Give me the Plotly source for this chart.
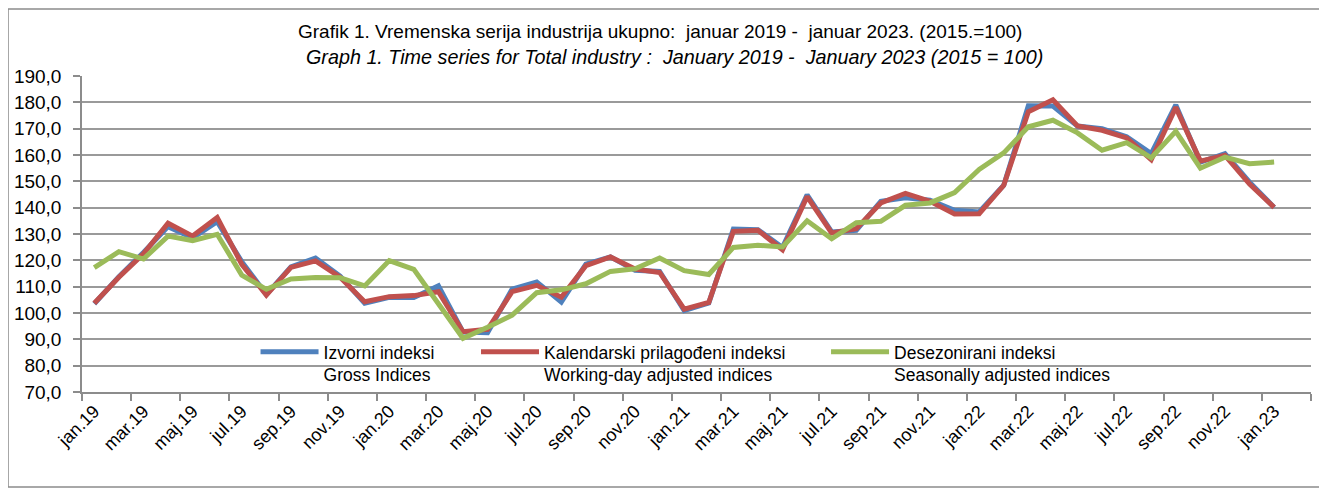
import plotly.graph_objects as go

months = ["jan.19", "feb.19", "mar.19", "apr.19", "maj.19", "jun.19", "jul.19", "avg.19", "sep.19", "okt.19", "nov.19", "dec.19",
          "jan.20", "feb.20", "mar.20", "apr.20", "maj.20", "jun.20", "jul.20", "avg.20", "sep.20", "okt.20", "nov.20", "dec.20",
          "jan.21", "feb.21", "mar.21", "apr.21", "maj.21", "jun.21", "jul.21", "avg.21", "sep.21", "okt.21", "nov.21", "dec.21",
          "jan.22", "feb.22", "mar.22", "apr.22", "maj.22", "jun.22", "jul.22", "avg.22", "sep.22", "okt.22", "nov.22", "dec.22",
          "jan.23"]

gross = [103.5, 113.8, 123.0, 132.8, 128.5, 134.7, 119.5, 107.0, 117.5, 120.9,
         114.0, 103.7, 106.0, 105.9, 110.3, 92.8, 92.5, 109.1, 111.8, 104.2,
         118.6, 121.3, 116.2, 115.8, 100.9, 103.8, 131.9, 131.6, 124.9, 144.9,
         130.8, 131.4, 142.4, 143.8, 142.8, 139.0, 138.4, 148.5, 178.7, 178.6,
         171.0, 170.0, 166.9, 160.5, 179.0, 157.3, 160.5, 149.7, 140.1]

wda = [103.7, 113.6, 122.5, 134.1, 129.2, 136.3, 118.5, 106.8, 117.3, 119.8,
       113.6, 104.3, 106.2, 106.6, 108.1, 92.9, 93.8, 108.1, 110.5, 106.0,
       118.0, 121.3, 116.7, 115.4, 101.5, 104.0, 131.0, 131.4, 124.0, 144.2,
       130.4, 132.0, 141.8, 145.4, 142.4, 137.6, 137.7, 148.5, 176.4, 181.0,
       171.0, 169.4, 166.5, 158.2, 178.1, 157.7, 159.9, 149.0, 140.1]

sa = [117.2, 123.3, 120.5, 129.2, 127.5, 129.9, 114.4, 109.0, 112.9, 113.5,
      113.4, 110.3, 119.9, 116.6, 103.5, 90.4, 94.6, 99.2, 107.7, 108.8,
      111.1, 115.8, 116.8, 120.9, 116.1, 114.6, 124.9, 125.7, 125.1, 135.0,
      128.2, 134.3, 134.8, 140.9, 141.8, 145.7, 154.5, 160.8, 170.7, 173.2,
      168.4, 161.8, 164.7, 158.9, 169.0, 155.0, 159.2, 156.7, 157.3]

names = ["Izvorni indeksi<br>Gross Indices",
         "Kalendarski prilagođeni indeksi<br>Working-day adjusted indices",
         "Desezonirani indeksi<br>Seasonally adjusted indices"]
colors = ["#4F81BD", "#C0504D", "#9BBB59"]

x = list(range(len(months)))
FONT = "Liberation Sans, Arial, sans-serif"

fig = go.Figure()
for i, (vals, nm, col) in enumerate(zip([gross, wda, sa], names, colors)):
    fig.add_trace(go.Scatter(
        x=x, y=vals, mode="lines", name=nm,
        line=dict(color=col, width=5),
        legend="legend" if i == 0 else f"legend{i+1}",
        showlegend=True,
    ))

leg_common = dict(orientation="v", yanchor="top", y=0.184, xanchor="left",
                  bgcolor="rgba(0,0,0,0)", borderwidth=0, valign="top",
                  font=dict(family=FONT, size=17.5, color="#000"), itemwidth=58,
                  tracegroupgap=0)

fig.update_layout(
    width=1319, height=482,
    margin=dict(l=74, r=16, t=68, b=98, autoexpand=False),
    paper_bgcolor="white", plot_bgcolor="white",
    separators=",.",
    showlegend=True,
    font=dict(family=FONT, size=18, color="#000"),
    legend=dict(x=0.1412, **leg_common),
    legend2=dict(x=0.3206, **leg_common),
    legend3=dict(x=0.6054, **leg_common),
    xaxis=dict(
        range=[-0.5, 49.5], automargin=False,
        tickmode="array",
        tickvals=x[::2], ticktext=months[::2],
        ticks="", tickangle=-45,
        tickfont=dict(family=FONT, size=18, color="#000"),
        showgrid=False, zeroline=False,
        showline=True, linecolor="#8c8c8c", linewidth=1.5,
        minor=dict(tickmode="array", tickvals=[k - 0.5 for k in range(0, 51, 2)],
                   ticks="outside", ticklen=7, tickcolor="#8c8c8c", tickwidth=1.5,
                   showgrid=False),
    ),
    yaxis=dict(
        range=[70, 190], dtick=10, tick0=70, automargin=False,
        tickformat=".1f",
        ticks="outside", ticklen=7, tickcolor="#8c8c8c", tickwidth=1.5,
        tickfont=dict(family=FONT, size=19, color="#000"),
        ticklabelstandoff=8,
        showgrid=True, gridcolor="#9a9a9a", gridwidth=1.5,
        zeroline=False,
        showline=True, linecolor="#8c8c8c", linewidth=1.5,
    ),
    annotations=[
        dict(text="Grafik 1. Vremenska serija industrija ukupno:\u00a0 januar 2019 -\u00a0 januar 2023. (2015.=100)",
             xref="paper", yref="paper", x=0.4707, y=1.1424, xanchor="center", yanchor="middle",
             showarrow=False, font=dict(family=FONT, size=19, color="#000")),
        dict(text="<i>Graph 1. Time series for Total industry :\u00a0 January 2019 -\u00a0 January 2023 (2015 = 100)</i>",
             xref="paper", yref="paper", x=0.4817, y=1.0601, xanchor="center", yanchor="middle",
             showarrow=False, font=dict(family=FONT, size=19.75, color="#000")),
    ],
    shapes=[
        dict(type="rect", xref="paper", yref="paper",
             x0=-0.0602, x1=1.0073, y0=-0.3006, y1=1.212,
             line=dict(color="#8c8c8c", width=1.5), fillcolor="rgba(0,0,0,0)", layer="below"),
    ],
)

fig.write_html("out.html")
